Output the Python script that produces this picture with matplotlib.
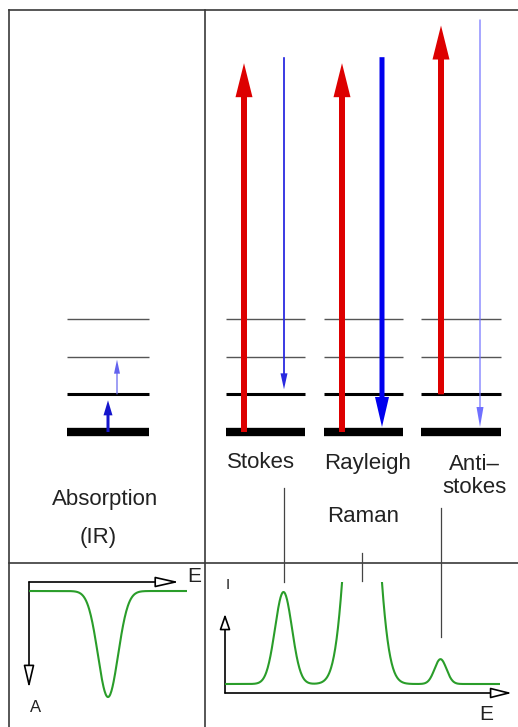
#Energy level diagram: IR absorption vs Raman scattering (Stokes / Rayleigh / Anti-stokes)
import numpy as np
import matplotlib.pyplot as plt
from matplotlib import transforms

plt.rcParams['font.family'] = ['Liberation Sans', 'DejaVu Sans']

#data (energies in units of the vibrational spacing)
level_energy = [0, 1, 2, 3]          #v = 0..3
laser_energy = 9.95                  #excitation to the virtual state

ir_start = [0, 1]                    #IR absorption transitions
ir_end = [1, 2]

raman_labels = ['Stokes', 'Rayleigh', 'Anti–\nstokes']
raman_start = [0, 0, 1]              #initial level
raman_final = [1, 0, 0]              #final level after scattering

peak_height = [1.0, 4.1, 0.27]       #Stokes, Rayleigh, Anti-stokes intensity
peak_sigma = [0.108, 0.157, 0.076]

ir_peak_energy = 1.0
ir_depth = 1.0
ir_sigma = 0.127

#layout (pixels)
W, H = 518, 727
E0_PX, E_PX = 432, 37.67             #ground level position, pixels per energy unit
col_x0 = [67, 226, 324, 421]
col_x1 = [149, 305, 403, 501]
up_x = [244, 342, 441]
down_x = [284, 382, 480]
ir_x = [108, 117]

fig = plt.figure(figsize=(W/100, H/100), dpi=100)

def px_axes(x0, y0, x1, y1):
    a = fig.add_axes([x0/W, 1 - y1/H, (x1 - x0)/W, (y1 - y0)/H])
    a.set_axis_off()
    a.patch.set_alpha(0)
    return a

ax = px_axes(0, 0, W, H)             #pixel frame
ax.set_xlim(0, W)
ax.set_ylim(H, 0)

ax_lv = px_axes(0, 0, W, H)          #energy-level axes
ax_lv.set_xlim(0, W)
ax_lv.set_ylim((E0_PX - H)/E_PX, E0_PX/E_PX)

#frame
fc = '#3a3a3a'
ax.plot([9, W], [10, 10], color=fc, lw=1.2)
ax.plot([9, 9], [10, H], color=fc, lw=1.2)
ax.plot([205, 205], [10, H], color=fc, lw=1.2)
ax.plot([9, W], [563, 563], color=fc, lw=1.2)

#levels
lw_lv = [6.0, 2.2, 1.0, 1.0]
col_lv = ['black', 'black', '#555555', '#555555']
for x0, x1 in zip(col_x0, col_x1):
    for e, lw, c in zip(level_energy, lw_lv, col_lv):
        ax_lv.plot([x0, x1], [e, e], color=c, lw=lw, solid_capstyle='butt')

def arrow(x, e0, e1, color, tail, hw, hl, sa=0, sb=0):
    ax_lv.annotate('', xy=(x, e1), xytext=(x, e0),
                   arrowprops=dict(arrowstyle=f'simple,head_length={hl},head_width={hw},tail_width={tail}',
                                   mutation_scale=0.72, fc=color, ec='none',
                                   shrinkA=sa*0.72, shrinkB=sb*0.72))

#IR absorption
ir_style = [('#1515cc', 3, 9, 15, 6), ('#6262ee', 1.2, 6, 14, 3)]
for x, s, e, (c, t, hw, hl, sb) in zip(ir_x, ir_start, ir_end, ir_style):
    arrow(x, s, e, c, t, hw, hl, sb=sb)

#Raman: excitation (red) and scattered photon (blue)
down_style = [('#2a2ae0', 1.8, 7, 16), ('#0000ee', 5, 14, 30), ('#7070ff', 1.2, 7, 20)]
for i in range(3):
    virt = raman_start[i] + laser_energy
    arrow(up_x[i], raman_start[i], virt, '#dd0000', 6, 17, 34, sb=6)
    c, t, hw, hl = down_style[i]
    arrow(down_x[i], virt, raman_final[i], c, t, hw, hl, sb=5)

#labels
tc = '#222222'
ax.text(261, 463, raman_labels[0], fontsize=16, color=tc, ha='center', va='center')
ax.text(368, 463, raman_labels[1], fontsize=16, color=tc, ha='center', va='center')
ax.text(474, 476, raman_labels[2], fontsize=16, color=tc, ha='center', va='center', linespacing=1.15)
ax.text(363, 517, 'Raman', fontsize=16, color=tc, ha='center', va='center')
ax.text(105, 499, 'Absorption', fontsize=16, color=tc, ha='center', va='center')
ax.text(98, 537, '(IR)', fontsize=16, color=tc, ha='center', va='center')

#IR spectrum (absorbance grows downwards)
ax_l = px_axes(29, 582, 187, 700)
ax_l.set_xlim(0, 2)
ax_l.set_ylim(1.028, -0.085)
x = np.linspace(0, 2, 300)
ax_l.plot(x, ir_depth*np.exp(-(x - ir_peak_energy)**2/(2*ir_sigma**2)), color='#2a9d2a', lw=1.5)

#Raman spectrum
peak_energy = [laser_energy + s - f for s, f in zip(raman_start, raman_final)]
ax_r = px_axes(225, 582, 500, 693)
ax_r.set_xlim(laser_energy - 137/78.5, laser_energy + 138/78.5)
ax_r.set_ylim(-9/92, 102/92)
x = np.linspace(*ax_r.get_xlim(), 600)
y = np.zeros_like(x)
for e, h, s in zip(peak_energy, peak_height, peak_sigma):
    y += h*np.exp(-(x - e)**2/(2*s**2))
ax_r.plot(x, y, color='#2a9d2a', lw=1.5)

#connectors from labels to peaks
blend = transforms.blended_transform_factory(ax_r.transData, ax.transData)
for e, y0, y1 in zip(peak_energy, [488, 553, 508], [582, 581, 637]):
    ax.plot([e, e], [y0, y1], color='#444444', lw=0.9, transform=blend)

#spectrum axes arrows
def axis_arrow(p0, p1, hl, hw):
    ax.annotate('', xy=p1, xytext=p0,
                arrowprops=dict(arrowstyle=f'-|>,head_length={hl},head_width={hw}',
                                mutation_scale=0.72, ec='black', fc='white', lw=1.2,
                                shrinkA=0, shrinkB=0))

axis_arrow((29, 582), (179, 582), 20, 4.5)
axis_arrow((29, 582), (29, 688), 19, 4.5)
axis_arrow((225, 693), (512, 693), 18, 4.5)
axis_arrow((225, 693), (225, 614), 13, 4.5)

ax.text(194, 576, 'E', fontsize=15, color=tc, ha='center', va='center')
ax.text(36, 707, 'A', fontsize=12, color=tc, ha='center', va='center')
ax.text(228, 585, 'I', fontsize=11, color=tc, ha='center', va='center')
ax.text(486, 714, 'E', fontsize=15, color=tc, ha='center', va='center')

fig.savefig('out.png', dpi=100)
